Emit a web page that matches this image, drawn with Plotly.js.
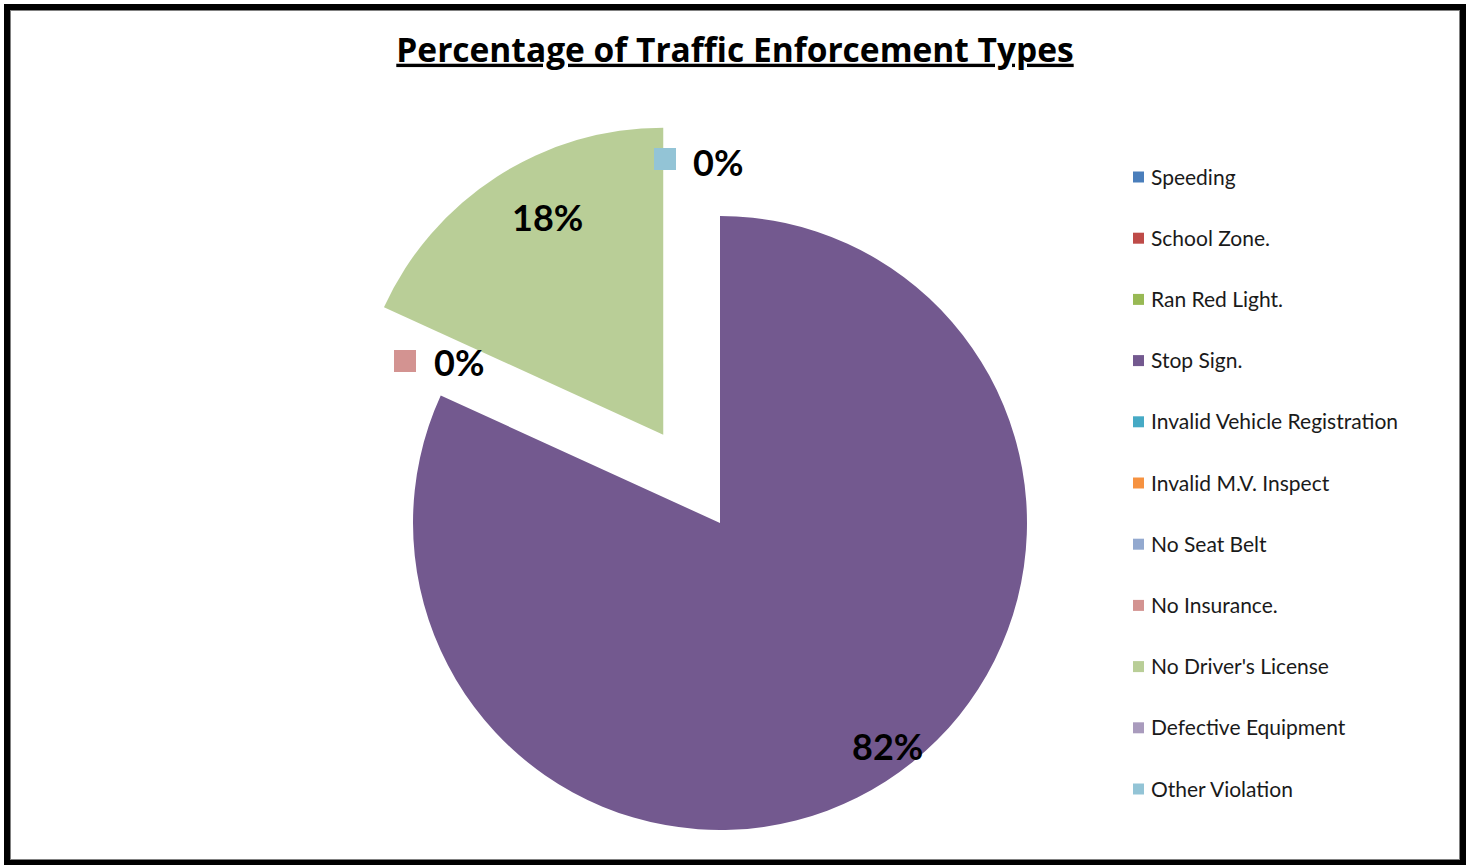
<!DOCTYPE html>
<html>
<head>
<meta charset="utf-8">
<script src="https://cdn.plot.ly/plotly-3.0.1.min.js"></script>
<style>
  html, body { margin:0; padding:0; background:#fff; overflow:hidden; }
  #wrap { position:absolute; left:0; top:0; width:1473px; height:865px; overflow:hidden; background:#fff; }
  #chart { position:absolute; left:0; top:0; width:1473px; height:1100px; }
  #frame { position:absolute; left:4px; top:4px; width:1450px; height:850px; border:6px solid #000;
           box-shadow: inset 0 0 0 1px #808080; pointer-events:none; }
</style>
</head>
<body>
<div id="wrap"><div id="chart"></div><div id="frame"></div></div>
<script>
// ---- data ----
const categories = ["Speeding", "School Zone.", "Ran Red Light.", "Stop Sign.", "Invalid Vehicle Registration",
  "Invalid M.V. Inspect", "No Seat Belt", "No Insurance.", "No Driver's License", "Defective Equipment", "Other Violation"];
const counts = [0, 0, 0, 9, 0, 0, 0, 0, 2, 0, 0];
const colors = ["#4A7EBB", "#BE4B48", "#98B954", "#73598F", "#46AAC5", "#F69240", "#93A9CF", "#D39391", "#B9CE97", "#A99BBD", "#93C4D6"];
const pulls  = [0, 0, 0, 0, 0, 0, 0, 0, 0.342, 0, 0];
const titleText = "Percentage of Traffic Enforcement Types";

// ---- style / placement (pixels) ----
const W = 1473, H = 1100;
const pieCx = 720, pieCy = 523, pieR = 307;
// which data labels are displayed, and where (pixel centre of the label text)
const labelPlaces = {
  "Stop Sign.": {x: 887, y: 746},
  "No Driver's License": {x: 547, y: 217},
  "No Insurance.": {x: 459, y: 362, key: {x: 405, y: 361}},
  "Other Violation": {x: 718, y: 162, key: {x: 665, y: 159}}
};
const legendX = 1133, legendY0 = 177, legendStep = 61.2;

const px = x => x / W;
const py = y => 1 - y / H;

const total = counts.reduce((a, b) => a + b, 0);
const maxPull = Math.max(...pulls);
const box = 2 * pieR * (1 + maxPull);
const dom = {
  x: [px(pieCx - box / 2), px(pieCx + box / 2)],
  y: [py(pieCy + box / 2), py(pieCy - box / 2)]
};

const trace = {
  type: "pie",
  labels: categories,
  values: counts,
  sort: false,
  direction: "clockwise",
  rotation: 0,
  pull: pulls,
  marker: {colors: colors, line: {width: 0}},
  textinfo: "none",
  hoverinfo: "label+percent",
  domain: dom,
  showlegend: false
};

const annotations = [];
const shapes = [];

// data labels
categories.forEach((c, i) => {
  const p = labelPlaces[c];
  if (!p) return;
  const pct = Math.round(counts[i] / total * 100) + "%";
  annotations.push({
    xref: "paper", yref: "paper", x: px(p.x), y: py(p.y), xanchor: "center", yanchor: "middle",
    text: "<b>" + pct + "</b>", showarrow: false,
    font: {family: "Lato, 'Open Sans', sans-serif", size: 36, color: "#000"}
  });
  if (p.key) {
    shapes.push({
      type: "rect", xref: "paper", yref: "paper",
      x0: px(p.key.x - 11), x1: px(p.key.x + 11), y0: py(p.key.y + 11), y1: py(p.key.y - 11),
      fillcolor: colors[i], line: {width: 0}
    });
  }
});

// legend
categories.forEach((c, i) => {
  const y = legendY0 + i * legendStep;
  shapes.push({
    type: "rect", xref: "paper", yref: "paper",
    x0: px(legendX), x1: px(legendX + 11), y0: py(y + 5.5), y1: py(y - 5.5),
    fillcolor: colors[i], line: {width: 0}
  });
  annotations.push({
    xref: "paper", yref: "paper", x: px(legendX + 16), y: py(y - 1), xanchor: "left", yanchor: "middle",
    text: c, showarrow: false,
    font: {family: "Lato, 'Open Sans', sans-serif", size: 21, color: "#1a1a1a"}
  });
});

const layout = {
  width: W, height: H,
  margin: {l: 0, r: 0, t: 0, b: 0},
  paper_bgcolor: "#fff",
  plot_bgcolor: "#fff",
  showlegend: false,
  title: {
    text: "<b>" + titleText + "</b>",
    x: px(735), xref: "paper", xanchor: "center",
    y: py(50), yref: "container", yanchor: "middle",
    font: {family: "'Open Sans', Lato, sans-serif", size: 33.5, color: "#000", lineposition: "under"}
  },
  annotations: annotations,
  shapes: shapes
};

Plotly.newPlot("chart", [trace], layout, {displayModeBar: false, staticPlot: true});
</script>
</body>
</html>
